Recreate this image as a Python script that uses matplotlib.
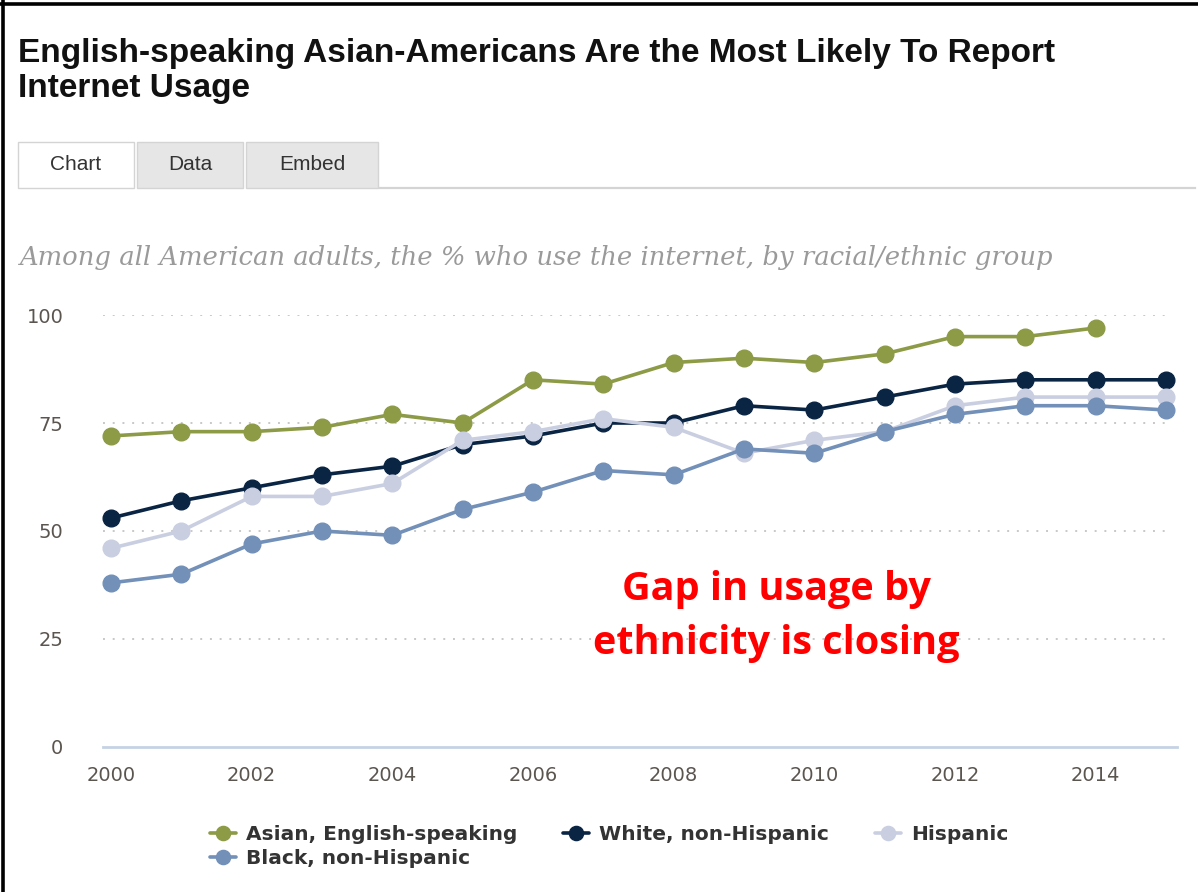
import matplotlib
matplotlib.use("Agg")
import matplotlib.pyplot as plt
from matplotlib.lines import Line2D
from matplotlib.patches import Rectangle

# Survey years and share of adults using the internet (%)
years = list(range(2000, 2016))
asian = [72, 73, 73, 74, 77, 75, 85, 84, 89, 90, 89, 91, 95, 95, 97, None]
white = [53, 57, 60, 63, 65, 70, 72, 75, 75, 79, 78, 81, 84, 85, 85, 85]
hispanic = [46, 50, 58, 58, 61, 71, 73, 76, 74, 68, 71, 73, 79, 81, 81, 81]
black = [38, 40, 47, 50, 49, 55, 59, 64, 63, 69, 68, 73, 77, 79, 79, 78]

series_names = ["Asian, English-speaking", "White, non-Hispanic", "Hispanic", "Black, non-Hispanic"]
series_values = [asian, white, hispanic, black]
series_colors = ["#8d9a46", "#0a2444", "#c9cee1", "#7290b8"]

y_ticks = [0, 25, 50, 75, 100]
x_ticks = [2000, 2002, 2004, 2006, 2008, 2010, 2012, 2014]

title_lines = ["English-speaking Asian-Americans Are the Most Likely To Report",
               "Internet Usage"]
subtitle = "Among all American adults, the % who use the internet, by racial/ethnic group"
note = "Gap in usage by\nethnicity is closing"

W, H = 1198, 892
fig = plt.figure(figsize=(W / 100, H / 100), dpi=100)
fig.patch.set_facecolor("white")


def fx(px):
    return px / W


def fy(py):
    return 1 - py / H


# page frame (top and left edges)
fig.add_artist(Line2D([0, 1], [fy(4), fy(4)], color="black", lw=2.6))
fig.add_artist(Line2D([fx(3), fx(3)], [0, 1], color="black", lw=2.6))

# headline
for line, base in zip(title_lines, [62, 97]):
    fig.text(fx(18), fy(base), line, fontsize=24, fontweight="bold",
             family="Liberation Sans", color="#111111", va="baseline")

# tab strip
tabs = [("Chart", 18, 134, "white"), ("Data", 137, 243, "#e6e6e6"), ("Embed", 246, 378, "#e6e6e6")]
for label, x0, x1, fc in tabs:
    fig.add_artist(Rectangle((fx(x0), fy(188)), fx(x1 - x0), (188 - 142) / H,
                             facecolor=fc, edgecolor="#d4d4d4", lw=1.0,
                             transform=fig.transFigure))
    fig.text(fx((x0 + x1) / 2), fy(164), label, fontsize=15, color="#333333",
             family="Liberation Sans", ha="center", va="center")
fig.add_artist(Line2D([fx(380), fx(1195)], [fy(188), fy(188)], color="#d4d4d4", lw=1.6))

# subtitle
fig.text(fx(20), fy(258), subtitle, fontsize=18.6, style="italic",
         family="DejaVu Serif", color="#9a9a9a", va="center")

# plot area
left, right, top, bottom = 103, 1177, 315, 747
ax = fig.add_axes([fx(left), fy(bottom), fx(right - left), (bottom - top) / H])
px_per_year = (1096 - 111) / 14
ax.set_xlim(2000 - (111 - left) / px_per_year, 2015 + (right - 1166) / px_per_year)
ax.set_ylim(0, 100)

for name, vals, col, z in zip(series_names, series_values, series_colors, range(4)):
    xs = [yr for yr, v in zip(years, vals) if v is not None]
    ys = [v for v in vals if v is not None]
    ax.plot(xs, ys, color=col, lw=2.6, marker="o", ms=12, mec=col, mfc=col,
            label=name, zorder=3 + z, clip_on=False, solid_capstyle="round")

for t in y_ticks[1:]:
    ax.axhline(t, xmin=0, xmax=(1171 - left) / (right - left), color="#c8c8c8",
               lw=1.4, ls=(0, (1, 4)), zorder=1)
ax.axhline(0, color="#c5d2e3", lw=2.0, zorder=2, clip_on=False)

for s in ax.spines.values():
    s.set_visible(False)
ax.set_yticks(y_ticks)
ax.set_xticks(x_ticks)
ax.tick_params(length=0, labelsize=14, labelcolor="#5b5550")
ax.tick_params(axis="y", pad=28.5)
ax.tick_params(axis="x", pad=14)
for lab in ax.get_xticklabels() + ax.get_yticklabels():
    lab.set_family("DejaVu Sans")

ax.text(0.627, 0.301, note, transform=ax.transAxes, ha="center", va="center",
        fontsize=28.5, fontweight="bold", family="Open Sans", color="#ff0000",
        linespacing=1.5)

# legend: first row Asian / White / Hispanic, second row Black
handles, labels = ax.get_legend_handles_labels()
order = [0, 3, 1, 2]
leg = fig.legend([handles[i] for i in order], [labels[i] for i in order],
                 ncol=3, loc="upper left", bbox_to_anchor=(fx(192), fy(807)),
                 frameon=False, handlelength=1.3, handletextpad=0.5,
                 columnspacing=2.25, labelspacing=0.22, markerscale=0.85,
                 prop={"family": "DejaVu Sans", "weight": "bold", "size": 14.5})
for txt in leg.get_texts():
    txt.set_color("#333333")

fig.savefig("out.png", dpi=100, facecolor="white")
